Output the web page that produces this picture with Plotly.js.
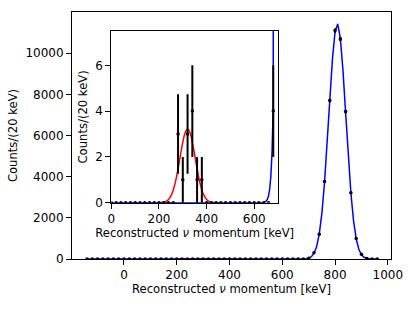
<!DOCTYPE html>
<html>
<head>
<meta charset="utf-8">
<script src="https://cdn.plot.ly/plotly-3.0.1.min.js"></script>
<style>html,body{margin:0;padding:0;background:#fff}#chart{width:415px;height:312px}</style>
</head>
<body>
<div id="chart"></div>
<script>
// Histogram bin centres (keV) and counts per 20 keV bin
const binCenters = [-140,-120,-100,-80,-60,-40,-20,0,20,40,60,80,100,120,140,160,180,200,220,240,260,
  280,300,320,340,360,380,
  400,420,440,460,480,500,520,540,560,580,600,620,640,660,
  680,700,720,740,760,780,800,820,840,860,880,900,920,940,960];
const counts = [0,0,0,0,0,0,0,0,0,0,0,0,0,0,0,0,0,0,0,0,0,
  3,1,3,4,1,1,
  0,0,0,0,0,0,0,0,0,0,0,0,0,0,
  4,35,300,1200,3760,7700,11100,10690,7160,3220,990,225,30,4,0];

// Blue fit curve (signal peak)
const blueFitX = [-140,640,650,655,660,665,670,675,680,685,690,700,710,720,730,740,750,760,770,780,790,800,810,820,830,840,850,860,870,880,890,900,910,920,930,940,950,960];
const blueFitY = [0,0.014,0.067,0.14,0.29,0.59,1.16,2.23,4.18,7.64,13.6,40.5,109,268,597,1206,2217,3703,5617,7745,9700,11041,11418,10728,9159,7105,5007,3206,1866,986,474,207,82,29.5,9.7,2.9,0.78,0.19];

// Red fit curve (low-momentum peak)
const redFitX = [190,200,210,220,230,240,250,260,270,280,290,300,310,320,330,340,350,360,370,380,390,400,410,420,430,440,450];
const redFitY = [0,0.0028,0.0088,0.0244,0.0617,0.1415,0.294,0.555,0.950,1.474,2.075,2.649,3.066,3.22,3.066,2.649,2.075,1.474,0.950,0.555,0.294,0.1415,0.0617,0.0244,0.0088,0.0028,0];

// Tick labels
const mainXTicks = [0,200,400,600,800,1000];
const mainXTickLabels = ['0','200','400','600','800','1000'];
const mainYTicks = [0,2000,4000,6000,8000,10000];
const mainYTickLabels = ['0','2000','4000','6000','8000','10000'];
const insetXTicks = [0,200,400,600];
const insetXTickLabels = ['0','200','400','600'];
const insetYTicks = [0,2,4,6];
const insetYTickLabels = ['0','2','4','6'];

const xTitle = 'Reconstructed <i>ν</i> momentum [keV]';
const yTitle = 'Counts/(20 keV)';

const errs = counts.map(c => Math.sqrt(c));

function traces(xa, ya) {
  return [
    {x: redFitX, y: redFitY, xaxis: xa, yaxis: ya, type: 'scatter', mode: 'lines',
     line: {color: '#ff0000', width: 1.5, shape: 'spline'}, hoverinfo: 'skip'},
    {x: blueFitX, y: blueFitY, xaxis: xa, yaxis: ya, type: 'scatter', mode: 'lines',
     line: {color: '#0000ff', width: 1.5}, hoverinfo: 'skip'},
    {x: binCenters, y: counts, xaxis: xa, yaxis: ya, type: 'scatter', mode: 'markers',
     marker: {color: 'black', size: 3.5},
     error_y: {type: 'data', array: errs, visible: true, color: 'black', thickness: 2, width: 0}}
  ];
}

const titleFont = {family: 'DejaVu Sans', size: 11.6, color: 'black'};
const axisCommon = {
  ticks: 'outside', ticklen: 5, tickwidth: 1, tickcolor: 'black',
  showline: true, mirror: true, linecolor: 'black', linewidth: 1,
  showgrid: false, zeroline: false, automargin: true,
  tickfont: {family: 'DejaVu Sans', size: 12, color: 'black'}
};

const layout = {
  width: 415, height: 312,
  margin: {l: 72, r: 24, t: 12, b: 53, pad: 0},
  paper_bgcolor: 'white', plot_bgcolor: 'white',
  showlegend: false,
  font: {family: 'DejaVu Sans', size: 12, color: 'black'},
  xaxis: Object.assign({}, axisCommon, {
    domain: [0, 1], anchor: 'y', range: [-197, 1012],
    tickmode: 'array', tickvals: mainXTicks, ticktext: mainXTickLabels,
    title: {text: xTitle, standoff: 3, font: titleFont}
  }),
  yaxis: Object.assign({}, axisCommon, {
    domain: [0, 1], anchor: 'x', range: [0, 12000],
    tickmode: 'array', tickvals: mainYTicks, ticktext: mainYTickLabels,
    title: {text: yTitle, standoff: 5, font: titleFont}
  }),
  xaxis2: Object.assign({}, axisCommon, {
    domain: [0.1235, 0.6458], anchor: 'y2', range: [0, 700],
    tickmode: 'array', tickvals: insetXTicks, ticktext: insetXTickLabels,
    title: {text: xTitle, standoff: 2, font: titleFont}
  }),
  yaxis2: Object.assign({}, axisCommon, {
    domain: [0.2279, 0.9231], anchor: 'x2', range: [0, 7.5],
    tickmode: 'array', tickvals: insetYTicks, ticktext: insetYTickLabels,
    title: {text: yTitle, standoff: 5, font: titleFont}
  })
};

Plotly.newPlot('chart', traces('x', 'y').concat(traces('x2', 'y2')), layout,
  {staticPlot: true, displayModeBar: false});
</script>
</body>
</html>
